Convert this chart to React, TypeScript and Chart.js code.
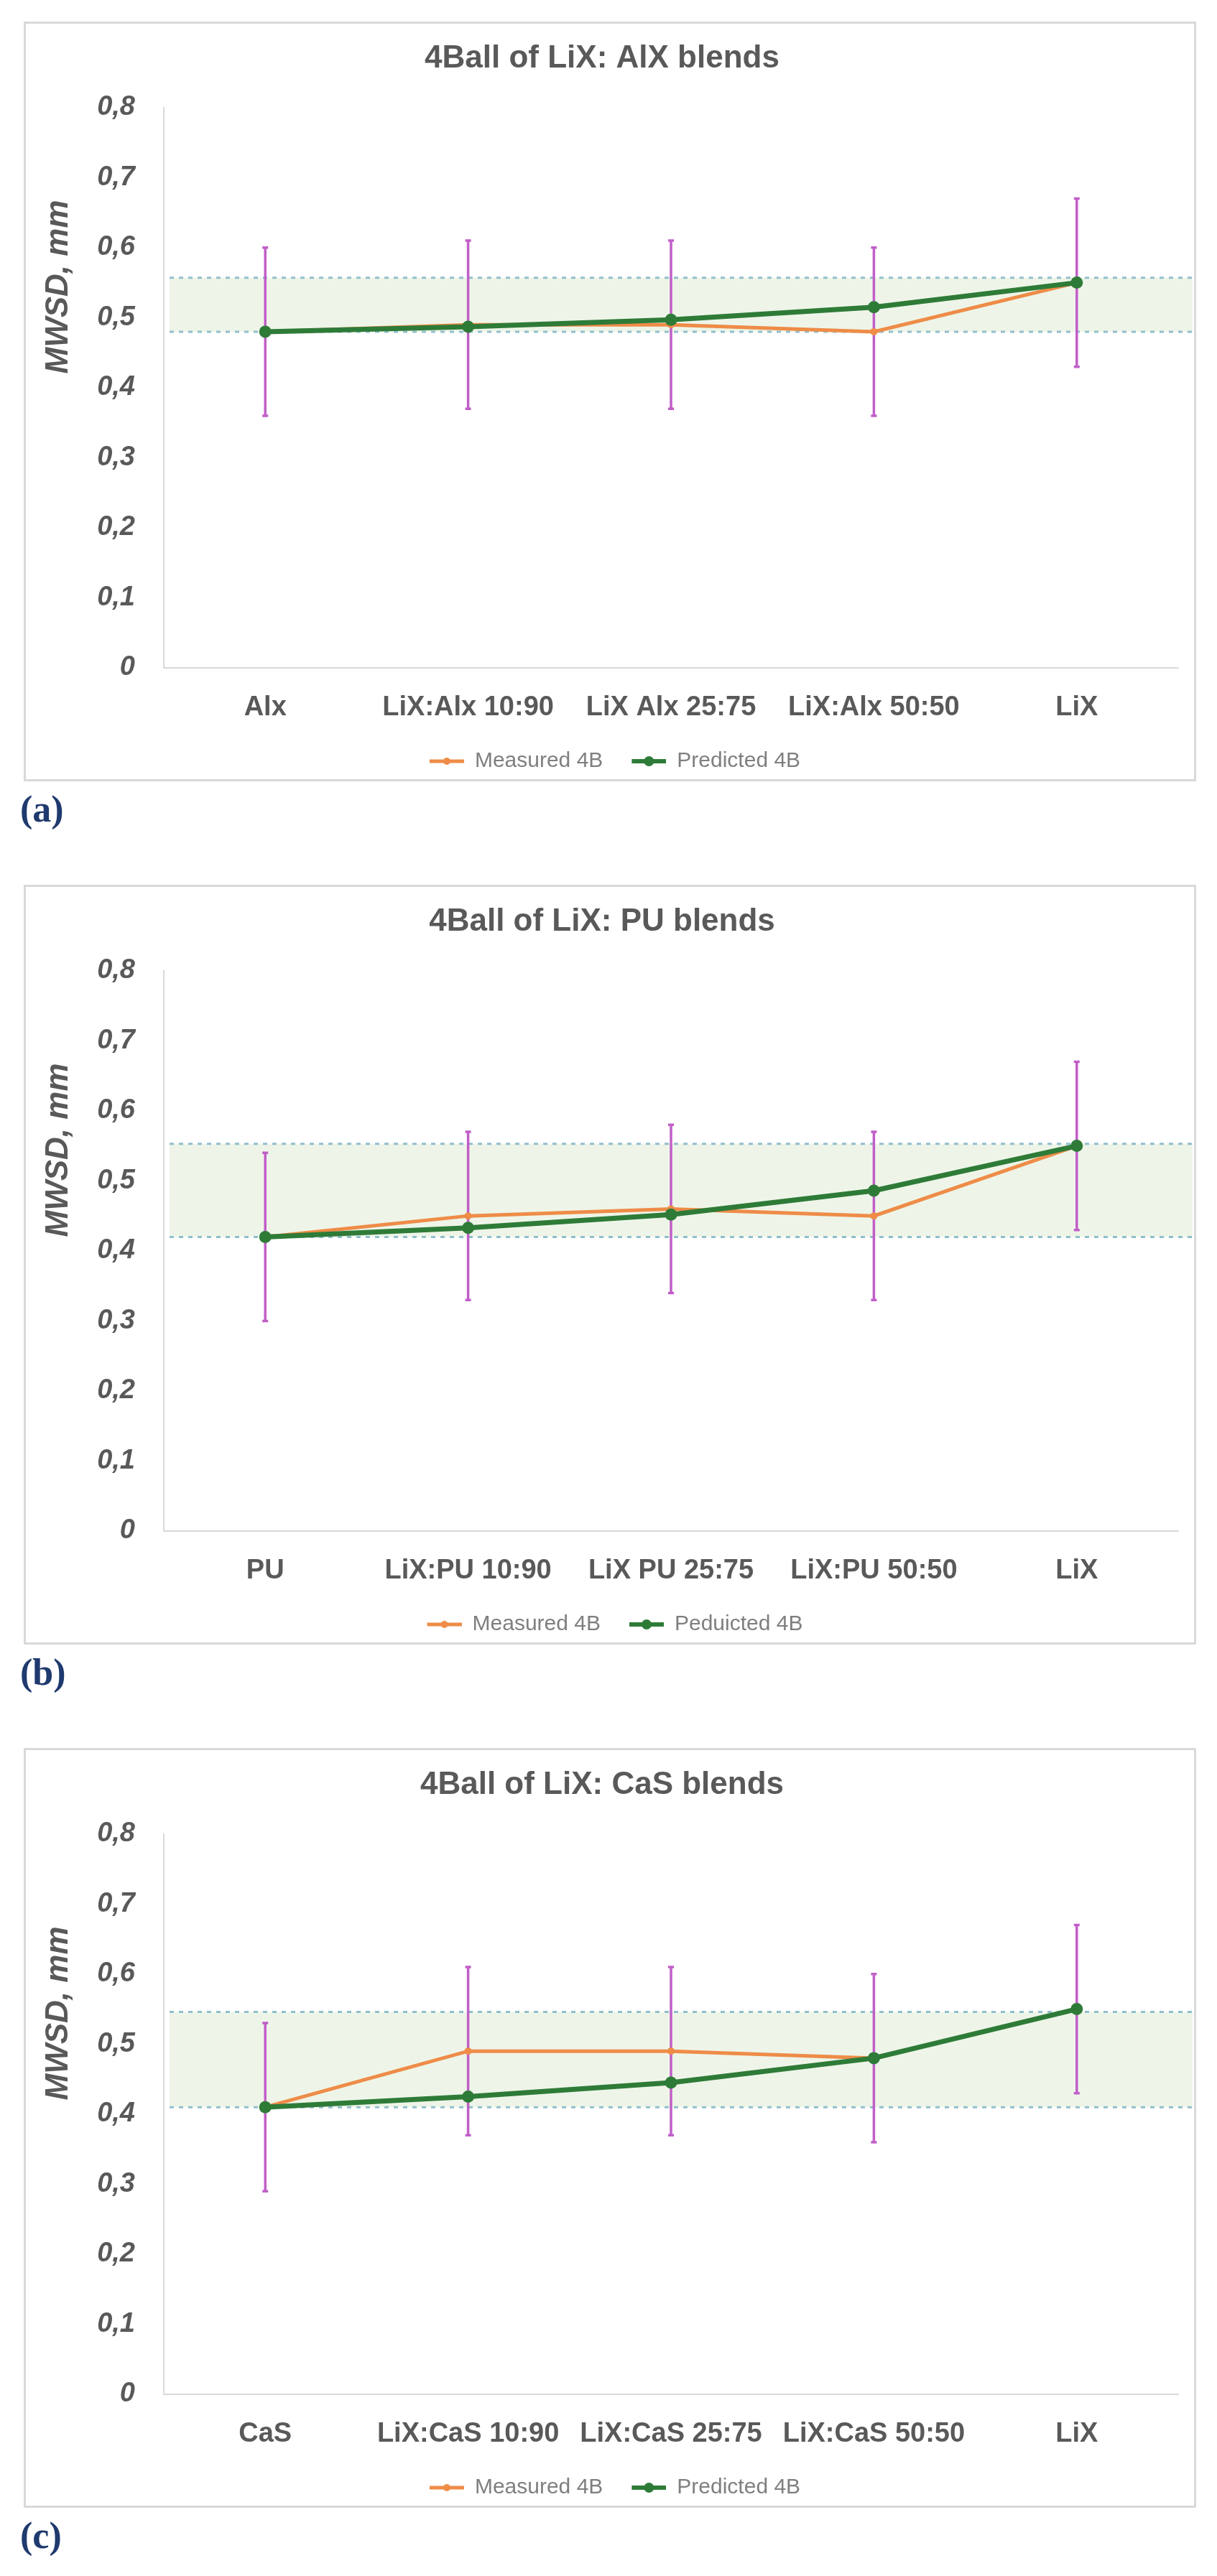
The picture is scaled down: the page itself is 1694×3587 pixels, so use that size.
import { useEffect, useRef } from 'react';
import { Chart, registerables } from 'chart.js';

Chart.register(...registerables);

document.body.style.margin = '0';

const FONT = "'Liberation Sans', Arial, sans-serif";
const GREY = '#595959';
const AXIS = '#d9d9d9';
const ORANGE = '#ee8c48';
const GREEN = '#2e7b38';
const ERR = '#c15ec8';
const BAND_FILL = '#eef5e8';
const BAND_LINE = '#92bfcc';

// (a) LiX : AlX
const catsA = ['Alx', 'LiX:Alx 10:90', 'LiX Alx 25:75', 'LiX:Alx 50:50', 'LiX'];
const measuredA = [0.48, 0.49, 0.49, 0.48, 0.55];
const predictedA = [0.48, 0.487, 0.497, 0.515, 0.55];
const errA = [0.12, 0.12, 0.12, 0.12, 0.12];
const bandA = [0.48, 0.557];

// (b) LiX : PU
const catsB = ['PU', 'LiX:PU 10:90', 'LiX PU 25:75', 'LiX:PU 50:50', 'LiX'];
const measuredB = [0.42, 0.45, 0.46, 0.45, 0.55];
const predictedB = [0.42, 0.433, 0.452, 0.486, 0.55];
const errB = [0.12, 0.12, 0.12, 0.12, 0.12];
const bandB = [0.42, 0.553];

// (c) LiX : CaS
const catsC = ['CaS', 'LiX:CaS 10:90', 'LiX:CaS 25:75', 'LiX:CaS 50:50', 'LiX'];
const measuredC = [0.41, 0.49, 0.49, 0.48, 0.55];
const predictedC = [0.41, 0.425, 0.445, 0.48, 0.55];
const errC = [0.12, 0.12, 0.12, 0.12, 0.12];
const bandC = [0.41, 0.546];

interface Panel {
  tag: string;
  title: string;
  cats: string[];
  measured: number[];
  predicted: number[];
  err: number[];
  band: number[];
  predLabel: string;
}

const PANELS: Panel[] = [
  { tag: 'a', title: '4Ball of LiX: AlX blends', cats: catsA, measured: measuredA, predicted: predictedA, err: errA, band: bandA, predLabel: 'Predicted 4B' },
  { tag: 'b', title: '4Ball of LiX: PU blends', cats: catsB, measured: measuredB, predicted: predictedB, err: errB, band: bandB, predLabel: 'Peduicted 4B' },
  { tag: 'c', title: '4Ball of LiX: CaS blends', cats: catsC, measured: measuredC, predicted: predictedC, err: errC, band: bandC, predLabel: 'Predicted 4B' },
];

// Excel-style legend marker: short line with a dot in the middle.
// The transparent strip on the left gives the gap between legend entries.
const ICON_GAP = 36;
function legendIcon(color: string, lw: number, r: number) {
  const c = document.createElement('canvas');
  c.width = ICON_GAP + 48;
  c.height = 20;
  const ctx = c.getContext('2d')!;
  ctx.strokeStyle = color;
  ctx.lineWidth = lw;
  ctx.beginPath();
  ctx.moveTo(ICON_GAP, 10);
  ctx.lineTo(ICON_GAP + 48, 10);
  ctx.stroke();
  ctx.fillStyle = color;
  ctx.beginPath();
  ctx.arc(ICON_GAP + 24, 10, r, 0, Math.PI * 2);
  ctx.fill();
  return c;
}

function decorPlugin(p: Panel) {
  return {
    id: 'decor',
    beforeDatasetsDraw(chart: Chart) {
      const { ctx, chartArea: a, scales } = chart;
      const x = scales['x'];
      const y = scales['y'];
      const yHi = y.getPixelForValue(p.band[1]);
      const yLo = y.getPixelForValue(p.band[0]);
      const x0 = a.left + 8;
      const x1 = chart.width - 2;
      ctx.save();
      // tolerance band
      ctx.fillStyle = BAND_FILL;
      ctx.fillRect(x0, yHi, x1 - x0, yLo - yHi);
      ctx.strokeStyle = BAND_LINE;
      ctx.lineWidth = 3;
      ctx.setLineDash([6, 7]);
      [yHi, yLo].forEach((yy) => {
        ctx.beginPath();
        ctx.moveTo(x0, yy);
        ctx.lineTo(x1, yy);
        ctx.stroke();
      });
      // error bars on measured values
      ctx.setLineDash([]);
      ctx.strokeStyle = ERR;
      ctx.lineWidth = 3.5;
      p.measured.forEach((v, i) => {
        const px = x.getPixelForValue(i);
        const t = y.getPixelForValue(v + p.err[i]);
        const b = y.getPixelForValue(v - p.err[i]);
        ctx.beginPath();
        ctx.moveTo(px, t);
        ctx.lineTo(px, b);
        ctx.moveTo(px - 4, t);
        ctx.lineTo(px + 4, t);
        ctx.moveTo(px - 4, b);
        ctx.lineTo(px + 4, b);
        ctx.stroke();
      });
      ctx.restore();
    },
    afterDraw(chart: Chart) {
      // axis title sits above the middle of the axis, as in the original
      const { ctx, chartArea: a } = chart;
      ctx.save();
      ctx.translate(46, a.top + a.height * 0.32);
      ctx.rotate(-Math.PI / 2);
      ctx.font = `italic bold 44px ${FONT}`;
      ctx.fillStyle = GREY;
      ctx.textAlign = 'center';
      ctx.textBaseline = 'middle';
      ctx.fillText('MWSD, mm', 0, 0);
      ctx.restore();
    },
  };
}

function BlendChart({ p, index }: { p: Panel; index: number }) {
  const canvasRef = useRef<HTMLCanvasElement>(null);

  useEffect(() => {
    if (!canvasRef.current) return;
    const icons = [legendIcon(ORANGE, 5, 5), legendIcon(GREEN, 6, 7)];
    const chart = new Chart(canvasRef.current, {
      type: 'line',
      data: {
        labels: p.cats,
        datasets: [
          {
            label: 'Measured 4B',
            data: p.measured,
            borderColor: ORANGE,
            backgroundColor: ORANGE,
            borderWidth: 5,
            pointRadius: 5,
            pointBorderWidth: 0,
            tension: 0,
            order: 1,
          },
          {
            label: p.predLabel,
            data: p.predicted,
            borderColor: GREEN,
            backgroundColor: GREEN,
            borderWidth: 7,
            pointRadius: 8.5,
            pointBorderWidth: 0,
            tension: 0,
            order: 0,
          },
        ],
      },
      options: {
        animation: false,
        responsive: true,
        maintainAspectRatio: false,
        layout: { padding: { left: 0, right: 22, top: 0, bottom: 0 } },
        plugins: {
          title: {
            display: true,
            text: p.title,
            color: GREY,
            font: { family: FONT, size: 44, weight: 'bold' },
            padding: { top: 22, bottom: 42 },
          },
          legend: {
            position: 'bottom',
            labels: {
              usePointStyle: true,
              pointStyleWidth: ICON_GAP + 48,
              boxHeight: 30,
              padding: 4,
              color: '#7f7f7f',
              font: { family: FONT, size: 30 },
              sort: (a, b) => (a.datasetIndex ?? 0) - (b.datasetIndex ?? 0),
              generateLabels: (c) =>
                Chart.defaults.plugins.legend.labels.generateLabels(c).map((item) => ({
                  ...item,
                  pointStyle: icons[item.datasetIndex ?? 0],
                })),
            },
          },
          tooltip: { enabled: false },
        },
        scales: {
          x: {
            offset: true,
            grid: { display: false, drawTicks: false },
            border: { color: AXIS, width: 2 },
            ticks: {
              color: GREY,
              font: { family: FONT, size: 38, weight: 'bold' },
              padding: 33,
              maxRotation: 0,
              autoSkip: false,
            },
            afterFit: (s) => { s.height = 111; },
          },
          y: {
            min: 0,
            max: 0.8,
            grid: { display: false, drawTicks: false },
            border: { color: AXIS, width: 2 },
            ticks: {
              stepSize: 0.1,
              color: GREY,
              font: { family: FONT, size: 38, weight: 'bold', style: 'italic' },
              padding: 40,
              callback: (v) => (Number(v) === 0 ? '0' : Number(v).toFixed(1).replace('.', ',')),
            },
            afterFit: (s) => { s.width = 192; },
          },
        },
      },
      plugins: [decorPlugin(p)],
    });
    return () => { chart.destroy(); };
  }, [p]);

  const top = 30 + index * 1202;
  return (
    <>
      <div
        style={{
          position: 'absolute',
          left: 33,
          top,
          width: 1632,
          height: 1058,
          border: `3px solid ${AXIS}`,
          boxSizing: 'border-box',
          background: '#fff',
        }}
      >
        <div style={{ position: 'relative', width: '100%', height: '100%' }}>
          <canvas ref={canvasRef} />
        </div>
      </div>
      <div
        style={{
          position: 'absolute',
          left: 28,
          top: top + 1071,
          fontFamily: "'Liberation Serif', 'Times New Roman', serif",
          fontWeight: 'bold',
          fontSize: 52,
          lineHeight: '52px',
          color: '#1f3a6e',
        }}
      >
        ({p.tag})
      </div>
    </>
  );
}

export default function App() {
  return (
    <div style={{ position: 'relative', width: 1694, height: 3587, background: '#fff' }}>
      {PANELS.map((p, i) => (
        <BlendChart key={p.tag} p={p} index={i} />
      ))}
    </div>
  );
}
